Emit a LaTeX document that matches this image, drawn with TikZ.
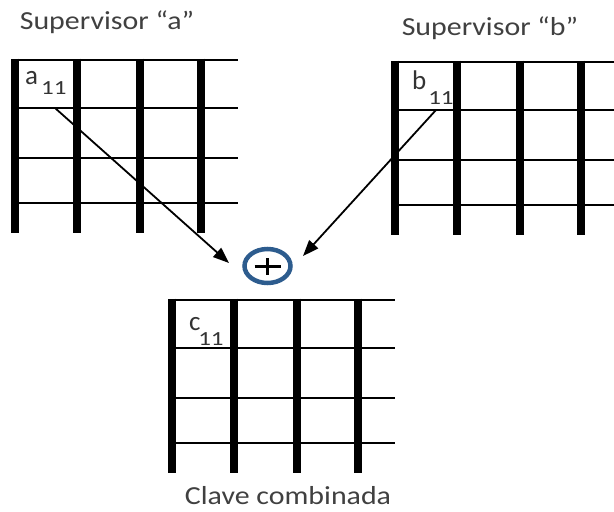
\documentclass[tikz,border=0pt]{standalone}
\usepackage{fontspec}
\setmainfont{Carlito}
\usetikzlibrary{arrows.meta,shapes.geometric}
\definecolor{ringblue}{RGB}{45,92,142}
\begin{document}
\begin{tikzpicture}[x=1pt,y=-1pt,
  bar/.style={line width=8pt},
  rule/.style={line width=2.6pt},
  title/.style={font=\fontsize{26}{28}\selectfont, text=black!75, xscale=1.15, inner sep=0pt},
  cell/.style={font=\fontsize{27}{29}\selectfont, text=black!80, inner sep=0pt, anchor=base west},
  idx/.style={font=\fontsize{20}{22}\selectfont, text=black!80, inner sep=0pt, anchor=base west, xscale=1.25},
  feed/.style={line width=1.8pt, -{Triangle[length=16pt,width=12pt]}},
  sum/.style={ellipse, draw=ringblue, line width=4.5pt, minimum width=46pt, minimum height=34pt, inner sep=0pt}
]
\useasboundingbox (0,0) rectangle (614,512);

% one key grid: four thick columns and four thin rows
\newcommand\keygrid[3]{%
  \begin{scope}[shift={(#1,#2)}]
    \foreach \r in {0,48,98,143} \draw[rule] (-4,\r) -- (#3,\r);
    \foreach \c in {0,62,125,186} \draw[bar] (\c,-1.3) -- (\c,173);
  \end{scope}}

\keygrid{15}{60}{223}
\keygrid{395}{62}{222}
\keygrid{172}{300}{223}

% titles
\node[title] (ta) at (107,22) {Supervisor “a”};
\node[title] (tb) at (490,28) {Supervisor “b”};
\node[title] (tc) at (288,496) {Clave combinada};

% first entries of each key
\node[cell] (a) at (25,84) {a};
\node[idx]  (a1) at (41,94) {11};
\node[cell] (b) at (412,89) {b};
\node[idx]  (b1) at (428,104) {11};
\node[cell] (c) at (189,330) {c};
\node[idx]  (c1) at (198,345) {11};

% combining operator
\node[sum] (plus) at (267.5,266) {};
\draw[line width=3pt] ([xshift=-13pt]plus.center) -- ([xshift=13pt]plus.center);
\draw[line width=3pt] ([yshift=-8.5pt]plus.center) -- ([yshift=8.5pt]plus.center);

\coordinate (sa) at (55,108);
\coordinate (ea) at (229,263);
\coordinate (sb) at (436,110);
\coordinate (eb) at (303,256);
\draw[feed] (sa) -- (ea);
\draw[feed] (sb) -- (eb);
\end{tikzpicture}
\end{document}
